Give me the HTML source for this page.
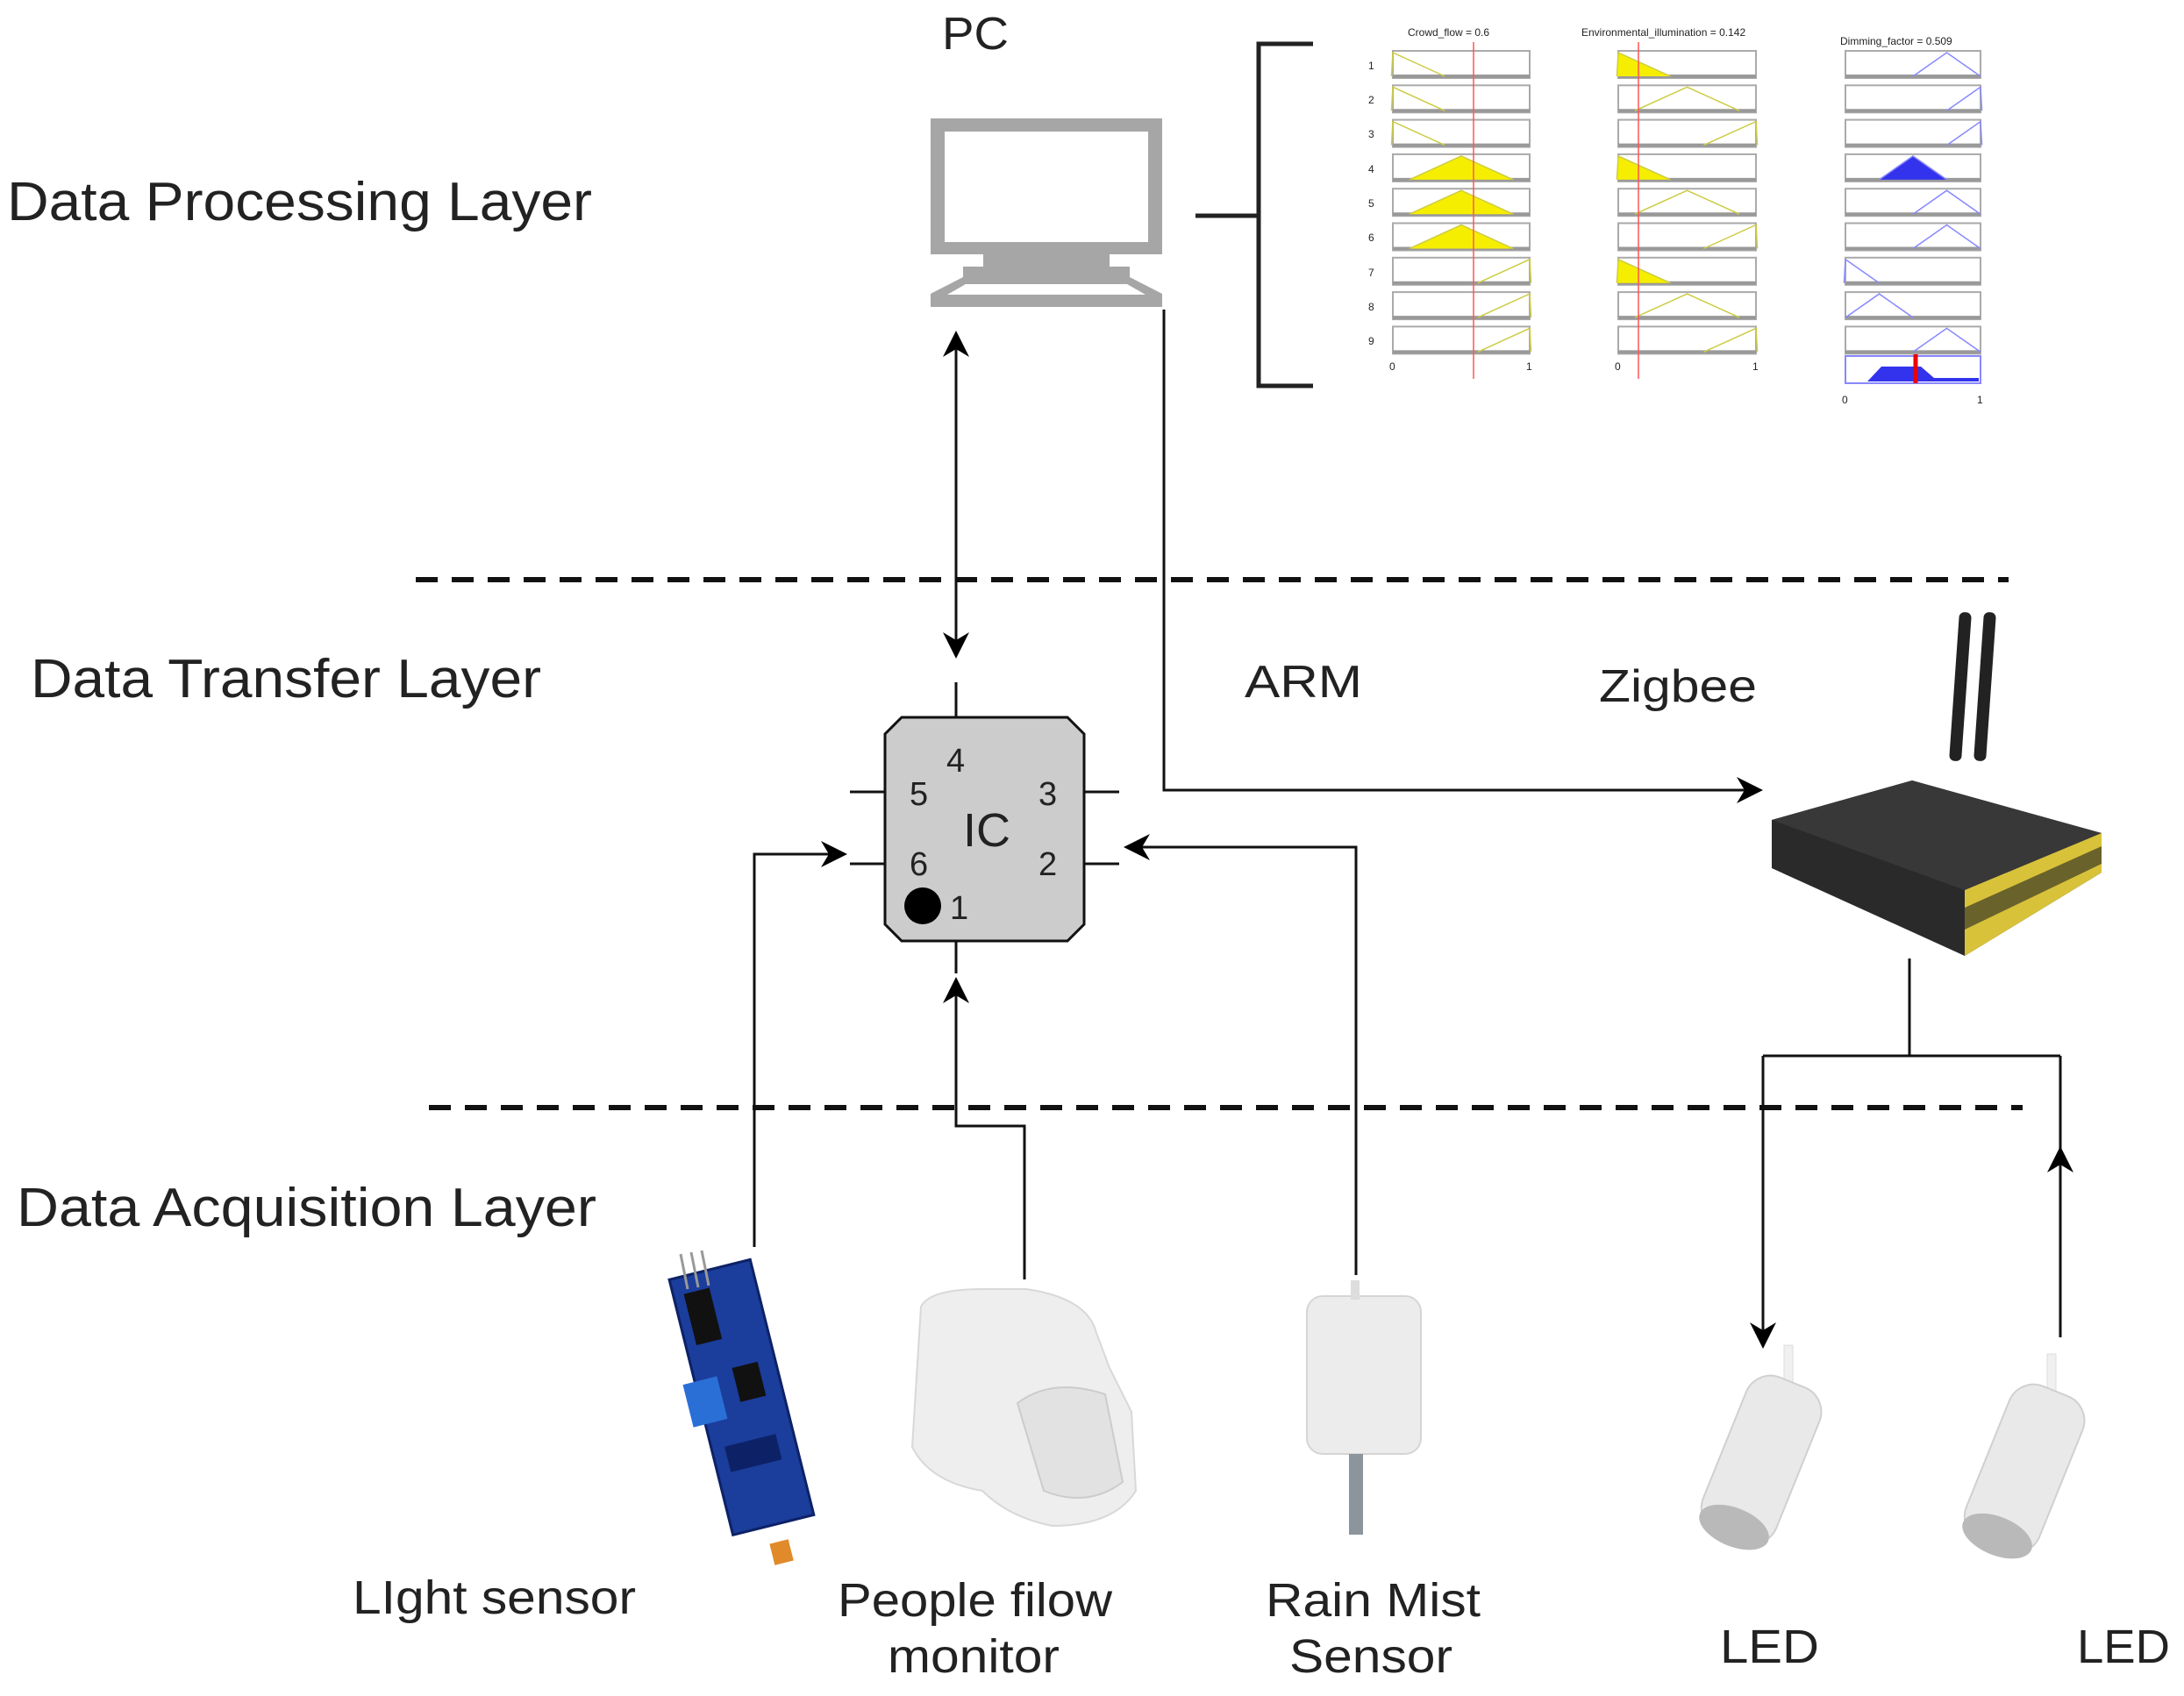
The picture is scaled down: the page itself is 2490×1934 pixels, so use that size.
<!DOCTYPE html>
<html><head><meta charset="utf-8"><style>
html,body{margin:0;padding:0;background:#fff;}
svg{display:block;}
text{font-family:"Liberation Sans",sans-serif;fill:#222;}
</style></head><body>
<svg id="s" width="2490" height="1934" viewBox="0 0 2490 1934" xmlns="http://www.w3.org/2000/svg">
<defs>
<marker id="ah" viewBox="0 0 10 10" refX="9" refY="5" markerWidth="32" markerHeight="30" markerUnits="userSpaceOnUse" orient="auto-start-reverse">
<path d="M0,0 L10,5 L0,10 L3,5 Z" fill="#000"/></marker>
</defs>

<text x="8" y="251" font-size="62" textLength="667" lengthAdjust="spacingAndGlyphs">Data Processing Layer</text>
<text x="35" y="795" font-size="62" textLength="582" lengthAdjust="spacingAndGlyphs">Data Transfer Layer</text>
<text x="19" y="1398" font-size="62" textLength="661" lengthAdjust="spacingAndGlyphs">Data Acquisition Layer</text>

<text x="1074" y="56" font-size="52" textLength="76" lengthAdjust="spacingAndGlyphs">PC</text>
<g fill="#a6a6a6">
<path d="M1061,135 H1325 V290 H1061 Z M1077,150 V276 H1309 V150 Z" fill-rule="evenodd"/>
<rect x="1121" y="290" width="144" height="14"/>
<rect x="1098" y="304" width="190" height="12"/>
<path d="M1098,316 H1288 L1325,335 V350 H1061 V335 Z M1080,336 H1306 L1285,324 H1101 Z" fill-rule="evenodd"/>
</g>

<g stroke="#222" stroke-width="5" fill="none">
<path d="M1497,50 H1435 V440 H1497"/>
<path d="M1363,246 H1435"/>
</g>

<g id="fz"></g>
<text x="1605" y="41" font-size="12" fill="#555">Crowd_flow = 0.6</text>
<text x="1803" y="41" font-size="12" fill="#555">Environmental_illumination = 0.142</text>
<text x="2098" y="51" font-size="12" fill="#555">Dimming_factor = 0.509</text>
<text x="1584" y="422" font-size="12" fill="#555">0</text>
<text x="1740" y="422" font-size="12" fill="#555">1</text>
<text x="1841" y="422" font-size="12" fill="#555">0</text>
<text x="1998" y="422" font-size="12" fill="#555">1</text>
<text x="2100" y="460" font-size="12" fill="#66f">0</text>
<text x="2254" y="460" font-size="12" fill="#66f">1</text>
<g font-size="12" fill="#555">
<text x="1560" y="79">1</text><text x="1560" y="118">2</text><text x="1560" y="157">3</text>
<text x="1560" y="197">4</text><text x="1560" y="236">5</text><text x="1560" y="275">6</text>
<text x="1560" y="315">7</text><text x="1560" y="354">8</text><text x="1560" y="393">9</text>
</g>

<g stroke="#111" stroke-width="6" stroke-dasharray="25 16">
<line x1="474" y1="661" x2="2290" y2="661"/>
<line x1="489" y1="1263" x2="2306" y2="1263"/>
</g>

<g stroke="#111" stroke-width="3" fill="none">
<line x1="1090" y1="380" x2="1090" y2="748" marker-start="url(#ah)" marker-end="url(#ah)"/>
<path d="M1327,353 V901 H2007" marker-end="url(#ah)"/>
<path d="M860,1422 V974 H963" marker-end="url(#ah)"/>
<path d="M1168,1459 V1284 H1090 V1117" marker-end="url(#ah)"/>
<path d="M1546,1454 V966 H1284" marker-end="url(#ah)"/>
<path d="M2177,1093 V1204"/>
<path d="M2010,1204 H2349"/>
<path d="M2010,1204 V1535" marker-end="url(#ah)"/>
<path d="M2349,1525 V1204"/>
<path d="M2349,1360 V1310" marker-end="url(#ah)"/>
</g>

<g stroke="#111" stroke-width="3">
<line x1="1090" y1="778" x2="1090" y2="818"/>
<line x1="1090" y1="1073" x2="1090" y2="1110"/>
<line x1="969" y1="903" x2="1009" y2="903"/>
<line x1="969" y1="985" x2="1009" y2="985"/>
<line x1="1236" y1="903" x2="1276" y2="903"/>
<line x1="1236" y1="985" x2="1276" y2="985"/>
<path d="M1028,818 H1217 L1236,837 V1054 L1217,1073 H1028 L1009,1054 V837 Z" fill="#cccccc"/>
</g>
<g font-size="38">
<text x="1079" y="880">4</text>
<text x="1037" y="918">5</text>
<text x="1184" y="918">3</text>
<text x="1037" y="998">6</text>
<text x="1184" y="998">2</text>
<text x="1083" y="1048">1</text>
<text x="1098" y="965" font-size="54">IC</text>
</g>
<circle cx="1052" cy="1033" r="21" fill="#000"/>

<text x="1419" y="795" font-size="52" textLength="134" lengthAdjust="spacingAndGlyphs">ARM</text>
<text x="1823" y="800" font-size="52" textLength="180" lengthAdjust="spacingAndGlyphs">Zigbee</text>

<!-- router -->
<g>
<rect x="2228" y="698" width="14" height="170" rx="6" fill="#222" transform="rotate(4 2235 783)"/>
<rect x="2256" y="698" width="14" height="170" rx="6" fill="#222" transform="rotate(4 2263 783)"/>
<polygon points="2020,935 2180,890 2396,950 2396,995 2240,1090 2020,990" fill="#2a2a2a"/>
<polygon points="2020,935 2180,890 2396,950 2240,1015" fill="#383838"/>
<polygon points="2240,1015 2396,950 2396,995 2240,1090" fill="#d8c23a"/>
<polygon points="2240,1035 2396,965 2396,985 2240,1060" fill="#222" opacity="0.6"/>
</g>

<g transform="rotate(-14 860 1600)">
<rect x="800" y="1440" width="95" height="300" fill="#1b3d9c" stroke="#0d2266" stroke-width="3"/>
<rect x="812" y="1460" width="30" height="60" fill="#111"/>
<rect x="786" y="1560" width="40" height="50" fill="#2a6fd6"/>
<rect x="845" y="1555" width="30" height="40" fill="#111"/>
<rect x="815" y="1640" width="60" height="30" fill="#0d2266"/>
<rect x="838" y="1760" width="22" height="25" fill="#e08a2a"/>
</g>
<g stroke="#999" stroke-width="3"><line x1="776" y1="1430" x2="784" y2="1470"/><line x1="788" y1="1428" x2="796" y2="1468"/><line x1="800" y1="1426" x2="808" y2="1466"/></g>

<path d="M1050,1490 Q1060,1470 1120,1470 L1170,1470 Q1240,1480 1250,1520 L1265,1560 L1290,1610 L1295,1700 Q1270,1740 1200,1740 Q1150,1730 1120,1700 Q1060,1690 1040,1650 Z" fill="#eeeeee" stroke="#d8d8d8" stroke-width="2"/>
<path d="M1160,1600 Q1200,1570 1260,1590 L1280,1690 Q1240,1720 1190,1700 Z" fill="#e2e2e2" stroke="#ccc" stroke-width="2"/>

<rect x="1490" y="1478" width="130" height="180" rx="18" fill="#ececec" stroke="#d5d5d5" stroke-width="2"/>
<rect x="1540" y="1460" width="10" height="22" fill="#ddd"/>
<rect x="1538" y="1658" width="16" height="92" fill="#8c949c"/>

<g id="led1">
<rect x="2034" y="1534" width="10" height="50" fill="#f0f0f0" stroke="#ddd"/>
<g transform="rotate(22 2010 1660)">
<rect x="1965" y="1570" width="90" height="190" rx="30" fill="#e9e9e9" stroke="#d0d0d0" stroke-width="2"/>
<ellipse cx="2010" cy="1748" rx="42" ry="22" fill="#b9b9b9"/>
</g>
</g>
<use href="#led1" transform="translate(300,10)"/>

<g font-size="54">
<text x="402" y="1840" textLength="323" lengthAdjust="spacingAndGlyphs">LIght sensor</text>
<text x="955" y="1843" textLength="313" lengthAdjust="spacingAndGlyphs">People filow</text>
<text x="1012" y="1907" textLength="196" lengthAdjust="spacingAndGlyphs">monitor</text>
<text x="1443" y="1843" textLength="245" lengthAdjust="spacingAndGlyphs">Rain Mist</text>
<text x="1470" y="1907" textLength="186" lengthAdjust="spacingAndGlyphs">Sensor</text>
<text x="1961" y="1896" textLength="113" lengthAdjust="spacingAndGlyphs">LED</text>
<text x="2368" y="1896" textLength="106" lengthAdjust="spacingAndGlyphs">LED</text>
</g>
</svg>
<script>
(function(){
var NS="http://www.w3.org/2000/svg",g=document.getElementById("fz");
function el(t,a){var e=document.createElementNS(NS,t);for(var k in a)e.setAttribute(k,a[k]);g.appendChild(e);return e;}
var cols=[[1588,1744],[1845,2002],[2104,2258]];
for(var c=0;c<3;c++)for(var r=0;r<9;r++){
 var x0=cols[c][0],x1=cols[c][1],y=58+39.3*r,h=31;
 el("rect",{x:x0,y:y,width:x1-x0,height:h,fill:"#fff",stroke:"#aaa","stroke-width":2});
 el("line",{x1:x0,y1:y+h-2,x2:x1,y2:y+h-2,stroke:"#999","stroke-width":4});
}
function tri(c,r,a,b,p,fill,col){var x0=cols[c][0],w=cols[c][1]-x0,y=58+39.3*r,h=31;
 el("polyline",{points:(x0+a*w)+","+(y+h-2)+" "+(x0+b*w)+","+(y+2)+" "+(x0+p*w)+","+(y+h-2),fill:fill||"none",stroke:col,"stroke-width":1.5});}
var ye="#cc4",bl="#88f";
tri(0,0,-0.01,0,0.38,null,ye);tri(0,1,-0.01,0,0.38,null,ye);tri(0,2,-0.01,0,0.38,null,ye);
tri(0,3,0.12,0.5,0.88,"#f6ee00",ye);tri(0,4,0.12,0.5,0.88,"#f6ee00",ye);tri(0,5,0.12,0.5,0.88,"#f6ee00",ye);
tri(0,6,0.62,1,1.01,null,ye);tri(0,7,0.62,1,1.01,null,ye);tri(0,8,0.62,1,1.01,null,ye);
tri(1,0,-0.01,0,0.38,"#f6ee00",ye);tri(1,1,0.12,0.5,0.88,null,ye);tri(1,2,0.62,1,1.01,null,ye);
tri(1,3,-0.01,0,0.38,"#f6ee00",ye);tri(1,4,0.12,0.5,0.88,null,ye);tri(1,5,0.62,1,1.01,null,ye);
tri(1,6,-0.01,0,0.38,"#f6ee00",ye);tri(1,7,0.12,0.5,0.88,null,ye);tri(1,8,0.62,1,1.01,null,ye);
tri(2,0,0.5,0.75,1,null,bl);tri(2,1,0.75,1,1.01,null,bl);tri(2,2,0.75,1,1.01,null,bl);
tri(2,3,0.25,0.5,0.75,"#33e",bl);tri(2,4,0.5,0.75,1,null,bl);tri(2,5,0.5,0.75,1,null,bl);
tri(2,6,-0.01,0,0.25,null,bl);tri(2,7,0,0.25,0.5,null,bl);tri(2,8,0.5,0.75,1,null,bl);
el("rect",{x:2104,y:406,width:154,height:31,fill:"#fff",stroke:"#88f","stroke-width":2});
el("polygon",{points:"2129,435 2145,418 2190,418 2205,431 2256,431 2256,435",fill:"#33e"});
el("line",{x1:2184,y1:404,x2:2184,y2:437,stroke:"#e00","stroke-width":5});
el("line",{x1:1680,y1:48,x2:1680,y2:432,stroke:"#f55","stroke-width":1.5});
el("line",{x1:1868,y1:48,x2:1868,y2:432,stroke:"#f55","stroke-width":1.5});
})();
</script>
</body></html>
